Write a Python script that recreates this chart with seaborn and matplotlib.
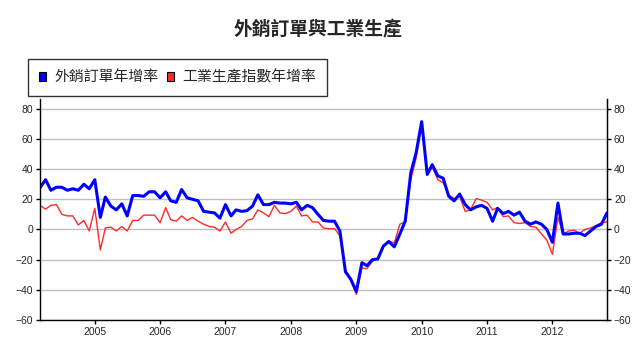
import matplotlib
matplotlib.use("Agg")
import pandas as pd
import numpy as np
from matplotlib import pyplot as plt
from matplotlib.patches import Patch
import seaborn as sns

months = pd.date_range("2004-03-01", "2012-11-01", freq="MS")

export_orders = [
    27.7, 33, 26, 28, 28, 26, 27, 26, 30, 27,
    33, 8, 21.5, 15.5, 13, 17, 9, 22.5, 22.5, 22, 25, 25,
    21, 25, 19, 18, 26.5, 21, 20, 19, 12, 11.5, 11, 7.5,
    16.5, 9, 13, 12, 12.5, 15.5, 23, 16.5, 16.5, 18, 17.5, 17.5,
    17, 18, 13, 16, 14.5, 10, 6, 5.5, 5.5, -1, -28, -33,
    -41, -22, -24, -20, -19.5, -11, -8, -11.5, -3, 5.5, 37.5, 51,
    71.5, 36.5, 43, 35.5, 34, 22, 19, 23.5, 16.5, 13, 15, 16,
    14, 5.5, 14, 10.5, 12, 9.5, 11.5, 5.5, 3.5, 5, 3.5, 0,
    -8.5, 17.5, -3, -3, -2.5, -2.5, -4, -1, 2, 3.5, 11,
]
industrial_prod = [
    16, 13.5, 16, 16.5, 10, 9, 9, 3, 6, -1,
    14, -13.5, 1, 1.5, -1, 2, -1, 6, 6, 9.5, 9.5, 9.5,
    4.5, 14.5, 6.5, 5.5, 9, 6, 8, 5.5, 3.5, 2, 1.5, -1,
    5, -2.5, 0, 2, 6, 7, 13, 11, 8.5, 16, 11, 10.5,
    12, 15.5, 9, 9.5, 5, 5, 1, 0.5, 0.5, -4, -26.5, -34,
    -43, -25.5, -26, -21, -19, -11, -7.5, -9, 3.5, 5, 33, 47.5,
    70, 36, 41.5, 33, 31, 23, 20.5, 22, 12, 13, 20.5, 19.5,
    18, 13, 14.5, 8.5, 9, 4.5, 4, 4.5, 2, 1.5, -3, -7,
    -16.5, 8, -3, -1, -0.5, -2.5, 0, 1, 2.5, 4.5, 5,
]
labels = ["外銷訂單年增率", "工業生產指數年增率"]
year_ticks = pd.date_range("2005-01-01", "2012-01-01", freq="YS")
y_ticks = list(range(-60, 81, 20))

df = pd.DataFrame({"month": months, labels[0]: export_orders, labels[1]: industrial_prod})

sns.set_style("white")
plt.rcParams["font.family"] = ["Liberation Sans", "Noto Sans CJK TC", "DejaVu Sans"]

fig = plt.figure(figsize=(6.42, 3.53), dpi=100)
ax = fig.add_axes([40 / 642, 33 / 353, 567 / 642, 221 / 353])

ax.yaxis.grid(True, color="#c0c0c0", lw=1)
ax.set_axisbelow(True)
sns.lineplot(data=df, x="month", y=labels[1], ax=ax, color="#ff2a2a", lw=1.0)
sns.lineplot(data=df, x="month", y=labels[0], ax=ax, color="#0000ff", lw=2.2)

ax.set_xlim(months[0], months[-1])
ax.set_ylim(-60, 86.5)
ax.set_yticks(y_ticks)
ax.set_xticks(year_ticks)
ax.set_xticklabels([str(d.year) for d in year_ticks])
ax.set_xlabel("")
ax.set_ylabel("")
ax.tick_params(axis="both", length=3, width=1, color="black", labelsize=7.5, pad=2, direction="out")
ax.tick_params(axis="x", bottom=True)
ax.tick_params(axis="y", left=True)
for s in ["left", "right", "bottom"]:
    ax.spines[s].set_color("black")
    ax.spines[s].set_linewidth(1)
ax.spines["top"].set_visible(False)

ax2 = ax.twinx()
ax2.set_ylim(ax.get_ylim())
ax2.set_yticks(y_ticks)
ax2.tick_params(axis="y", right=True, length=3, width=1, color="black", labelsize=7.5, pad=2)
ax2.spines["top"].set_visible(False)
ax2.spines["left"].set_visible(False)
ax2.spines["bottom"].set_visible(False)
ax2.spines["right"].set_color("black")
ax2.grid(False)

fig.text(318 / 642, 1 - 29.5 / 353, "外銷訂單與工業生產", ha="center", va="center",
         fontsize=13.5, fontweight="bold", family=["Noto Sans CJK TC"])

handles = [Patch(facecolor="#0000ff", edgecolor="black", lw=0.8),
           Patch(facecolor="#ff2a2a", edgecolor="black", lw=0.8)]
leg = fig.legend(handles, labels, loc="upper left", bbox_to_anchor=(28 / 642, 1 - 59 / 353),
                 ncol=2, frameon=True, fancybox=False, fontsize=10.7, handlelength=0.45,
                 handleheight=0.6, handletextpad=0.55, columnspacing=0.6, borderpad=0.75,
                 borderaxespad=0)
leg.get_frame().set_edgecolor("black")
leg.get_frame().set_linewidth(1)

fig.savefig("out.png", dpi=100)
